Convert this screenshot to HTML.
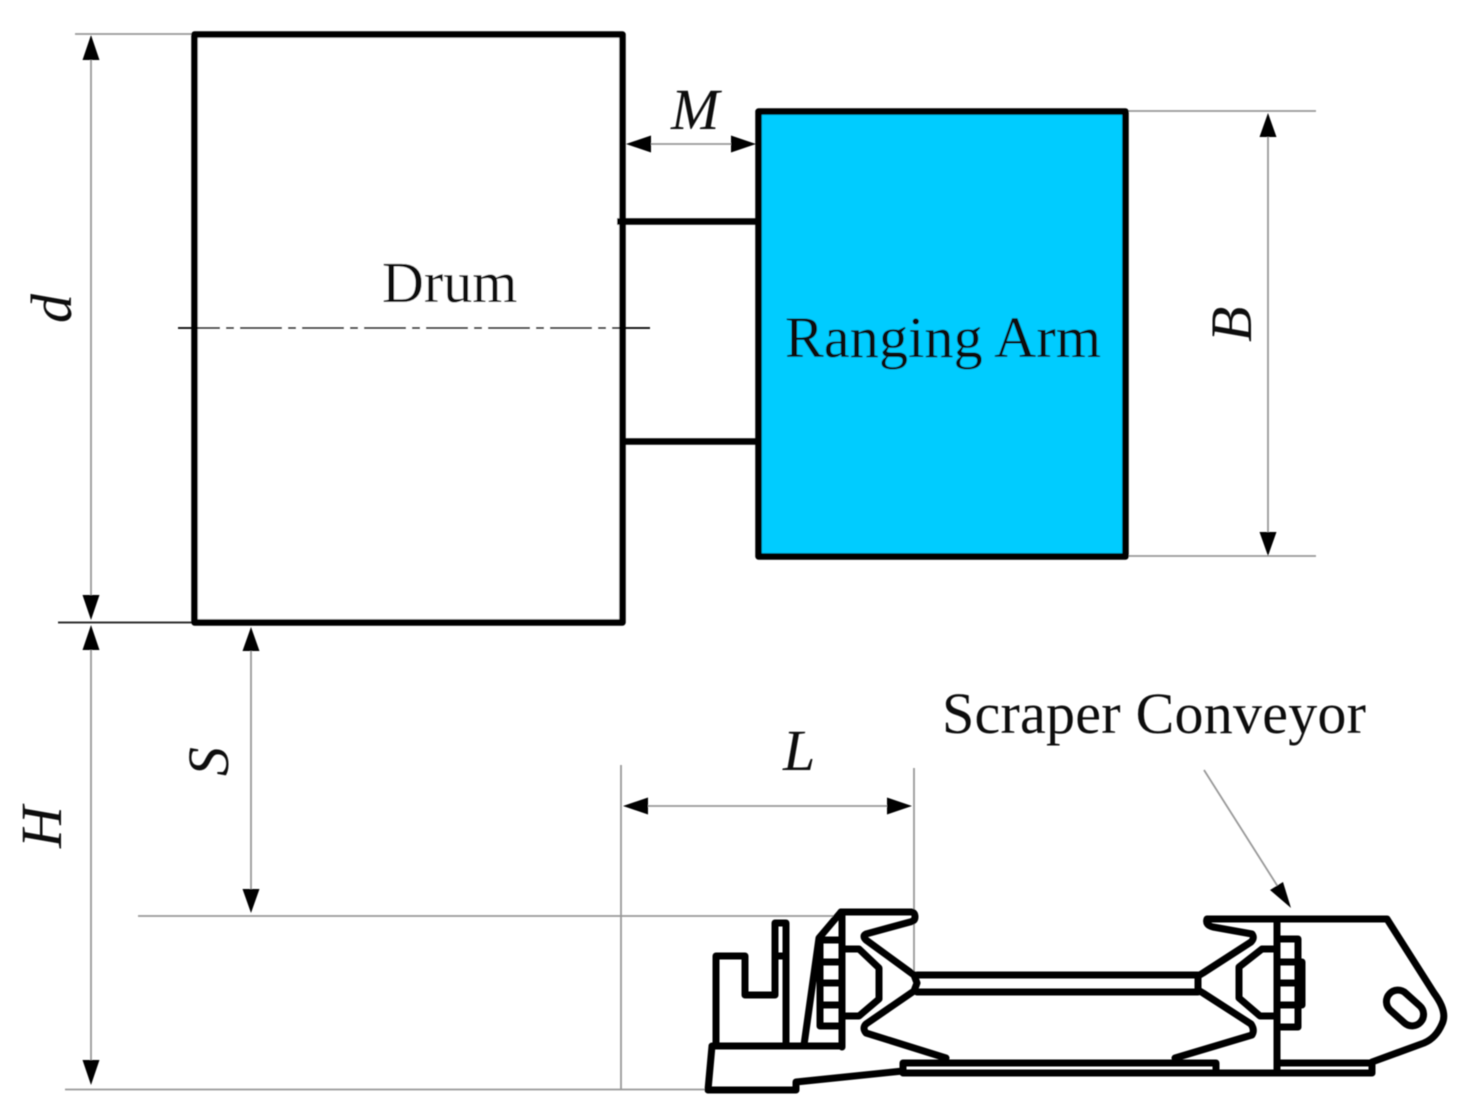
<!DOCTYPE html>
<html><head><meta charset="utf-8"><style>html,body{margin:0;padding:0;background:#fff}svg{display:block}</style></head>
<body>
<svg xmlns="http://www.w3.org/2000/svg" width="1477" height="1120" viewBox="0 0 1477 1120">
<defs><filter id="b" x="-2%" y="-2%" width="104%" height="104%"><feGaussianBlur stdDeviation="0.6"/></filter></defs>
<rect width="1477" height="1120" fill="#fff"/>
<g filter="url(#b)">
<!-- thin lines -->
<g stroke="#999" stroke-width="1.800" fill="none">
<path d="M75 34H194M1125 111H1316M1125 556H1316M138 916H840M65 1089.500H712M621 765V1090M914 768V972"/>
<path d="M91 60V598M91 648V1060M251 650V890M1268 136V532M648 144H734M646 806H890M1204 770L1280 890"/>
</g>
<path d="M58 622.500H194" stroke="#333" stroke-width="2"/>
<!-- main boxes -->
<rect x="194.500" y="34.500" width="428" height="588" fill="#fff" stroke="#000" stroke-width="6.500" stroke-linejoin="round"/>
<rect x="758.500" y="111.500" width="367" height="445" fill="#00ccff" stroke="#000" stroke-width="6.500" stroke-linejoin="round"/>
<path d="M617 221.500H758M622 441.500H758" stroke="#000" stroke-width="6.500"/>
<path d="M178 328H650" stroke="#000" stroke-width="1.800" stroke-dasharray="42 6 8 6" fill="none"/>
<!-- arrowheads -->
<g fill="#000">
<path d="M91 35l-8.500 25h17zM91 620l-8.500-25h17zM91 625l-8.500 25h17zM91 1085l-8.500-25h17z"/>
<path d="M251 627l-8.500 24h17zM251 913l-8.500-24h17z"/>
<path d="M1268 113l-8.500 24h17zM1268 556l-8.500-24h17z"/>
<path d="M626 144l25-8.500v17zM756 144l-25-8.500v17z"/>
<path d="M623 806l25-8.500v17zM912 806l-25-8.500v17z"/>
<path d="M1291 908l-8-26l-13 8z"/>
</g>
<!-- conveyor -->
<g fill="none" stroke="#000" stroke-width="7" stroke-linejoin="round" stroke-linecap="round">
<path d="M841 912H911Q915 912 915 917Q915 921 910 922L866 934Q862 936 866 940L914 975L917 983L914 991L866 1024Q862 1028 866 1033L946 1058"/>
<path d="M841 912L819 938L804 1045M842 912V1047M716 1046H842"/>
<path d="M712 1046L708 1090H796V1082L903 1071V1063H1216V1073H903M716 1046V956H745V995H775V923H786V1046M775 956H786"/>
<path d="M917 975H1198M917 992H1198"/>
<path d="M820 938V1026H842M820 940H842M820 962H842M820 983H842M820 1005H842"/>
<path d="M844 949H859L879 968V999L859 1016H844"/>
<path d="M1207 919H1387L1434 993Q1448 1012 1442 1024Q1436 1038 1424 1043L1372 1062V1073H1216M1279 1063H1372M1207 919Q1205 925 1213 927L1252 934Q1255 938 1251 942L1203 973L1198 976V990L1203 993L1251 1024Q1255 1030 1252 1035L1175 1058"/>
<path d="M1277 919V1073"/>
<path d="M1278 939H1298V1027H1278M1278 962H1302V1005H1278M1278 983H1298"/>
<path d="M1276 949H1262L1239 967V998L1260 1016H1276"/>
<rect x="-21" y="-11.500" width="42" height="23" rx="11.500" transform="translate(1405 1008) rotate(42)"/>
</g>
<!-- labels -->
<g font-family="'Liberation Serif',serif" fill="#111">
<text x="382" y="302" font-size="58">Drum</text>
<text x="785" y="357" font-size="58" textLength="316">Ranging Arm</text>
<text x="942" y="733" font-size="58" textLength="424">Scraper Conveyor</text>
<g font-style="italic" font-size="58">
<text x="671" y="129">M</text>
<text x="783" y="770">L</text>
<text transform="translate(71 323) rotate(-90)">d</text>
<text transform="translate(1251 342) rotate(-90)">B</text>
<text transform="translate(228 776) rotate(-90)">S</text>
<text transform="translate(61 848) rotate(-90)">H</text>
</g>
</g>
</g>
</svg>
</body></html>
